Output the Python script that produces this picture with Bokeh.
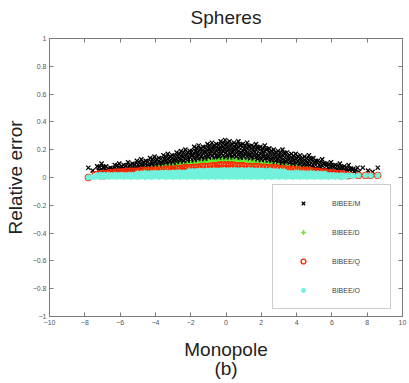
from bokeh.plotting import figure
from bokeh.models import LinearAxis, FixedTicker, Range1d, Legend, LegendItem
from bokeh.embed import file_html
from bokeh.resources import INLINE

title_text = "Spheres"
x_label = "Monopole\n(b)"
y_label = "Relative error"
series_names = ["BIBEE/M", "BIBEE/D", "BIBEE/Q", "BIBEE/O"]
x_ticks = [-10, -8, -6, -4, -2, 0, 2, 4, 6, 8, 10]
x_tick_labels = ["\u221210", "\u22128", "\u22126", "\u22124", "\u22122", "0", "2", "4", "6", "8", "10"]
y_ticks = [-1, -0.8, -0.6, -0.4, -0.2, 0, 0.2, 0.4, 0.6, 0.8, 1]
y_tick_labels = ["\u22121", "\u22120.8", "\u22120.6", "\u22120.4", "\u22120.2", "0", "0.2", "0.4", "0.6", "0.8", "1"]

# BIBEE/M  (x = monopole, y = relative error)
bibee_m = [
    (-7.80, 0.07), (-7.55, 0.05), (-7.30, 0.08), (-7.22, 0.05),
    (-7.05, 0.10), (-6.97, 0.07), (-7.12, 0.04), (-6.80, 0.08), (-6.72, 0.05),
    (-6.55, 0.07), (-6.48, 0.04), (-6.30, 0.09), (-6.22, 0.06), (-6.36, 0.04),
    (-6.05, 0.10), (-5.97, 0.07), (-6.12, 0.045), (-5.80, 0.09), (-5.72, 0.06), (-5.86, 0.04),
    (-5.55, 0.11), (-5.47, 0.08), (-5.62, 0.05), (-5.30, 0.10), (-5.22, 0.07), (-5.36, 0.05),
    (-5.05, 0.12), (-4.97, 0.09), (-5.12, 0.06), (-4.80, 0.13), (-4.72, 0.10), (-4.86, 0.07),
    (-4.55, 0.12), (-4.47, 0.09), (-4.62, 0.06), (-4.30, 0.14), (-4.22, 0.11), (-4.37, 0.08), (-4.26, 0.06),
    (-4.05, 0.15), (-3.97, 0.12), (-4.12, 0.09), (-4.00, 0.065), (-3.80, 0.14), (-3.72, 0.11), (-3.87, 0.08),
    (-3.55, 0.16), (-3.47, 0.13), (-3.62, 0.10), (-3.50, 0.075), (-3.30, 0.17), (-3.22, 0.14), (-3.37, 0.11), (-3.26, 0.085),
    (-3.05, 0.16), (-2.97, 0.13), (-3.12, 0.10), (-3.00, 0.08), (-2.80, 0.18), (-2.72, 0.15), (-2.87, 0.12), (-2.76, 0.09),
    (-2.55, 0.19), (-2.47, 0.16), (-2.62, 0.13), (-2.50, 0.10), (-2.30, 0.20), (-2.22, 0.17), (-2.37, 0.14), (-2.26, 0.11),
    (-2.05, 0.19), (-1.97, 0.16), (-2.12, 0.13), (-2.00, 0.10), (-1.80, 0.22), (-1.72, 0.19), (-1.87, 0.16), (-1.76, 0.13), (-1.83, 0.11),
    (-1.55, 0.23), (-1.47, 0.20), (-1.62, 0.17), (-1.50, 0.14), (-1.58, 0.115), (-1.30, 0.22), (-1.22, 0.19), (-1.37, 0.16), (-1.26, 0.13),
    (-1.05, 0.24), (-0.97, 0.21), (-1.12, 0.18), (-1.00, 0.15), (-1.08, 0.12), (-0.80, 0.25), (-0.72, 0.22), (-0.87, 0.19), (-0.76, 0.16), (-0.83, 0.13),
    (-0.55, 0.24), (-0.47, 0.21), (-0.62, 0.18), (-0.50, 0.15), (-0.58, 0.125),
    (-0.30, 0.26), (-0.22, 0.23), (-0.37, 0.20), (-0.26, 0.17), (-0.33, 0.14), (-0.24, 0.12),
    (-0.05, 0.27), (0.03, 0.24), (-0.12, 0.21), (0.00, 0.18), (-0.08, 0.15), (0.02, 0.125),
    (0.20, 0.26), (0.28, 0.23), (0.13, 0.20), (0.25, 0.17), (0.17, 0.14), (0.27, 0.125),
    (0.45, 0.25), (0.53, 0.22), (0.38, 0.19), (0.50, 0.16), (0.42, 0.13),
    (0.70, 0.26), (0.78, 0.23), (0.63, 0.20), (0.75, 0.17), (0.67, 0.14), (0.77, 0.12),
    (0.95, 0.24), (1.03, 0.21), (0.88, 0.18), (1.00, 0.15), (0.92, 0.125),
    (1.20, 0.25), (1.28, 0.22), (1.13, 0.19), (1.25, 0.16), (1.17, 0.13),
    (1.45, 0.23), (1.53, 0.20), (1.38, 0.17), (1.50, 0.14), (1.42, 0.12),
    (1.70, 0.24), (1.78, 0.21), (1.63, 0.18), (1.75, 0.15), (1.67, 0.12),
    (1.95, 0.22), (2.03, 0.19), (1.88, 0.16), (2.00, 0.13), (1.92, 0.11),
    (2.20, 0.23), (2.28, 0.20), (2.13, 0.17), (2.25, 0.14), (2.17, 0.11),
    (2.45, 0.21), (2.53, 0.18), (2.38, 0.15), (2.50, 0.12), (2.42, 0.10),
    (2.70, 0.20), (2.78, 0.17), (2.63, 0.14), (2.75, 0.11), (2.95, 0.19), (3.03, 0.16), (2.88, 0.13), (3.00, 0.10),
    (3.20, 0.20), (3.28, 0.17), (3.13, 0.14), (3.25, 0.11), (3.17, 0.09), (3.45, 0.18), (3.53, 0.15), (3.38, 0.12), (3.50, 0.09),
    (3.70, 0.17), (3.78, 0.14), (3.63, 0.11), (3.75, 0.085), (3.95, 0.17), (4.03, 0.14), (3.88, 0.11), (4.00, 0.08),
    (4.20, 0.16), (4.28, 0.13), (4.13, 0.10), (4.25, 0.075), (4.45, 0.15), (4.53, 0.12), (4.38, 0.09), (4.50, 0.07),
    (4.70, 0.16), (4.78, 0.13), (4.63, 0.10), (4.75, 0.07), (4.95, 0.14), (5.03, 0.11), (4.88, 0.08), (5.00, 0.06),
    (5.20, 0.12), (5.28, 0.09), (5.13, 0.06), (5.45, 0.13), (5.53, 0.10), (5.38, 0.07), (5.50, 0.05),
    (5.70, 0.10), (5.78, 0.07), (5.63, 0.05), (5.95, 0.11), (6.03, 0.08), (5.88, 0.05),
    (6.20, 0.09), (6.28, 0.06), (6.13, 0.04), (6.45, 0.10), (6.53, 0.07), (6.38, 0.045),
    (6.70, 0.08), (6.78, 0.05), (6.95, 0.09), (7.03, 0.06), (6.88, 0.04),
    (7.20, 0.06), (7.28, 0.04), (7.45, 0.07), (7.53, 0.04),
    (7.75, 0.07), (8.05, 0.05), (8.30, 0.04), (8.60, 0.07),
    (-7.17, 0.075), (-7.17, 0.045), (-6.92, 0.075), (-6.92, 0.05), (-6.67, 0.065), (-6.67, 0.045),
    (-6.42, 0.065), (-6.42, 0.05), (-6.17, 0.085), (-6.17, 0.055), (-5.92, 0.08), (-5.92, 0.05),
    (-5.67, 0.085), (-5.67, 0.06), (-5.42, 0.09), (-5.42, 0.06), (-5.17, 0.095), (-5.17, 0.065),
    (-4.92, 0.11), (-4.92, 0.08), (-4.92, 0.055), (-4.67, 0.11), (-4.67, 0.08), (-4.67, 0.055),
    (-4.42, 0.115), (-4.42, 0.085), (-4.42, 0.06), (-4.17, 0.13), (-4.17, 0.10), (-4.17, 0.07),
    (-3.92, 0.13), (-3.92, 0.10), (-3.92, 0.07), (-3.67, 0.135), (-3.67, 0.105), (-3.67, 0.08),
    (-3.42, 0.15), (-3.42, 0.12), (-3.42, 0.09), (-3.17, 0.15), (-3.17, 0.12), (-3.17, 0.09),
    (-2.92, 0.155), (-2.92, 0.125), (-2.92, 0.095), (-2.67, 0.17), (-2.67, 0.14), (-2.67, 0.11),
    (-2.42, 0.18), (-2.42, 0.15), (-2.42, 0.12), (-2.42, 0.095), (-2.17, 0.18), (-2.17, 0.15), (-2.17, 0.12), (-2.17, 0.10),
    (-1.92, 0.19), (-1.92, 0.16), (-1.92, 0.13), (-1.92, 0.105), (-1.67, 0.21), (-1.67, 0.18), (-1.67, 0.15), (-1.67, 0.12),
    (-1.42, 0.21), (-1.42, 0.18), (-1.42, 0.15), (-1.42, 0.125), (-1.17, 0.215), (-1.17, 0.185), (-1.17, 0.155), (-1.17, 0.125),
    (-0.92, 0.23), (-0.92, 0.20), (-0.92, 0.17), (-0.92, 0.14), (-0.67, 0.23), (-0.67, 0.20), (-0.67, 0.17), (-0.67, 0.14),
    (-0.42, 0.235), (-0.42, 0.205), (-0.42, 0.175), (-0.42, 0.145),
    (-0.17, 0.25), (-0.17, 0.22), (-0.17, 0.19), (-0.17, 0.16), (-0.17, 0.135),
    (0.08, 0.25), (0.08, 0.22), (0.08, 0.19), (0.08, 0.16), (0.08, 0.135),
    (0.33, 0.24), (0.33, 0.21), (0.33, 0.18), (0.33, 0.15), (0.58, 0.24), (0.58, 0.21), (0.58, 0.18), (0.58, 0.15),
    (0.83, 0.235), (0.83, 0.205), (0.83, 0.175), (0.83, 0.145), (1.08, 0.23), (1.08, 0.20), (1.08, 0.17), (1.08, 0.14),
    (1.33, 0.225), (1.33, 0.195), (1.33, 0.165), (1.33, 0.135), (1.58, 0.22), (1.58, 0.19), (1.58, 0.16), (1.58, 0.13),
    (1.83, 0.215), (1.83, 0.185), (1.83, 0.155), (1.83, 0.125), (2.08, 0.21), (2.08, 0.18), (2.08, 0.15), (2.08, 0.12),
    (2.33, 0.20), (2.33, 0.17), (2.33, 0.14), (2.33, 0.11), (2.58, 0.19), (2.58, 0.16), (2.58, 0.13), (2.58, 0.105),
    (2.83, 0.18), (2.83, 0.15), (2.83, 0.12), (2.83, 0.10), (3.08, 0.18), (3.08, 0.15), (3.08, 0.12), (3.08, 0.095),
    (3.33, 0.175), (3.33, 0.145), (3.33, 0.115), (3.33, 0.09), (3.58, 0.16), (3.58, 0.13), (3.58, 0.10),
    (3.83, 0.155), (3.83, 0.125), (3.83, 0.095), (4.08, 0.15), (4.08, 0.12), (4.08, 0.09),
    (4.33, 0.14), (4.33, 0.11), (4.33, 0.08), (4.58, 0.14), (4.58, 0.11), (4.58, 0.08),
    (4.83, 0.135), (4.83, 0.105), (4.83, 0.075), (5.08, 0.12), (5.08, 0.09), (5.08, 0.065),
    (5.33, 0.11), (5.33, 0.08), (5.33, 0.055), (5.58, 0.10), (5.58, 0.07), (5.58, 0.05),
    (5.83, 0.095), (5.83, 0.065), (5.83, 0.045), (6.08, 0.085), (6.08, 0.055), (6.33, 0.085), (6.33, 0.055),
    (6.58, 0.075), (6.58, 0.05), (6.83, 0.07), (6.83, 0.045), (7.08, 0.065), (7.08, 0.045), (7.33, 0.055),
]

# BIBEE/D
bibee_d = [
    (-4.6, 0.055), (-4.4, 0.06), (-4.2, 0.06), (-4.0, 0.065), (-3.8, 0.07), (-3.6, 0.07), (-3.4, 0.075), (-3.2, 0.08),
    (-3.0, 0.08), (-2.8, 0.085), (-2.6, 0.09), (-2.4, 0.09), (-2.2, 0.095), (-2.0, 0.10), (-1.8, 0.10), (-1.6, 0.105),
    (-1.4, 0.11), (-1.2, 0.11), (-1.0, 0.115), (-0.8, 0.12), (-0.6, 0.115), (-0.4, 0.12), (-0.2, 0.125), (0.0, 0.12),
    (0.2, 0.125), (0.4, 0.12), (0.6, 0.12), (0.8, 0.115), (1.0, 0.12), (1.2, 0.115), (1.4, 0.11), (1.6, 0.11),
    (1.8, 0.105), (2.0, 0.10), (2.2, 0.10), (2.4, 0.095), (2.6, 0.09), (2.8, 0.09), (3.0, 0.085), (3.2, 0.08),
    (3.4, 0.08), (3.6, 0.075), (3.8, 0.07), (4.0, 0.07), (4.2, 0.065), (4.4, 0.06), (4.6, 0.06), (4.8, 0.055),
    (-3.5, 0.065), (-2.5, 0.08), (-1.5, 0.095), (-0.5, 0.11), (0.5, 0.11), (1.5, 0.10), (2.5, 0.085), (3.5, 0.07),
]

# BIBEE/Q
bibee_q = [
    (-7.8, 0.0), (-7.4, 0.02), (-7.2, 0.025), (-7.0, 0.03), (-6.8, 0.03), (-6.6, 0.035), (-6.4, 0.035), (-6.2, 0.04),
    (-6.0, 0.04), (-5.8, 0.04), (-5.6, 0.045), (-5.4, 0.045), (-5.2, 0.045), (-5.0, 0.045), (-4.8, 0.05), (-4.6, 0.05),
    (-4.4, 0.05), (-4.2, 0.05), (-4.0, 0.055), (-3.8, 0.055), (-3.6, 0.055), (-3.4, 0.06), (-3.2, 0.06), (-3.0, 0.06),
    (-2.8, 0.065), (-2.6, 0.065), (-2.4, 0.07), (-2.2, 0.07), (-2.0, 0.07), (-1.8, 0.075), (-1.6, 0.075), (-1.4, 0.08),
    (-1.2, 0.08), (-1.0, 0.08), (-0.8, 0.085), (-0.6, 0.085), (-0.4, 0.09), (-0.2, 0.09), (0.0, 0.09), (0.2, 0.09),
    (0.4, 0.09), (0.6, 0.085), (0.8, 0.085), (1.0, 0.085), (1.2, 0.08), (1.4, 0.08), (1.6, 0.08), (1.8, 0.08),
    (2.0, 0.075), (2.2, 0.075), (2.4, 0.07), (2.6, 0.07), (2.8, 0.07), (3.0, 0.065), (3.2, 0.065), (3.4, 0.06),
    (3.6, 0.06), (3.8, 0.06), (4.0, 0.055), (4.2, 0.055), (4.4, 0.05), (4.6, 0.05), (4.8, 0.05), (5.0, 0.045),
    (5.2, 0.045), (5.4, 0.04), (5.6, 0.04), (5.8, 0.035), (6.0, 0.035), (6.2, 0.03), (6.4, 0.03), (6.6, 0.025),
    (6.8, 0.02), (7.05, 0.015), (7.5, 0.015), (7.9, 0.015), (8.2, 0.015), (8.6, 0.015),
    (-7.1, 0.012), (-6.9, 0.012), (-6.7, 0.015), (-6.5, 0.015), (-6.3, 0.018), (-6.1, 0.018), (-5.9, 0.02), (-5.7, 0.022),
    (-5.5, 0.022), (-5.3, 0.024), (-5.1, 0.024), (-4.9, 0.026), (-4.7, 0.028), (-4.5, 0.028), (-4.3, 0.03), (-4.1, 0.03),
    (-3.9, 0.032), (-3.7, 0.032), (-3.5, 0.035), (-3.3, 0.035), (-3.1, 0.035), (-2.9, 0.04), (-2.7, 0.04), (-2.5, 0.045),
    (-2.3, 0.045), (-2.1, 0.045), (-1.9, 0.05), (-1.7, 0.05), (-1.5, 0.055), (-1.3, 0.055), (-1.1, 0.055), (-0.9, 0.06),
    (-0.7, 0.06), (-0.5, 0.065), (-0.3, 0.065), (-0.1, 0.065), (0.1, 0.065), (0.3, 0.065), (0.5, 0.06), (0.7, 0.06),
    (0.9, 0.06), (1.1, 0.055), (1.3, 0.055), (1.5, 0.055), (1.7, 0.055), (1.9, 0.05), (2.1, 0.05), (2.3, 0.045),
    (2.5, 0.045), (2.7, 0.045), (2.9, 0.04), (3.1, 0.04), (3.3, 0.035), (3.5, 0.035), (3.7, 0.035), (3.9, 0.03),
    (4.1, 0.03), (4.3, 0.028), (4.5, 0.028), (4.7, 0.026), (4.9, 0.024), (5.1, 0.024), (5.3, 0.022), (5.5, 0.02),
    (5.7, 0.018), (5.9, 0.018), (6.1, 0.015), (6.3, 0.015), (6.5, 0.012), (6.9, 0.012),
]

# BIBEE/O
bibee_o = [
    (-7.8, 0.0), (-7.6, 0.004),
    (-7.4, 0.004), (-7.2, 0.008), (-7.0, 0.004), (-6.8, 0.008), (-6.6, 0.004), (-6.4, 0.008), (-6.2, 0.004), (-6.0, 0.008),
    (-5.8, 0.004), (-5.6, 0.008), (-5.4, 0.004), (-5.2, 0.008), (-5.0, 0.004), (-4.8, 0.008), (-4.6, 0.004), (-4.4, 0.008),
    (-4.2, 0.004), (-4.0, 0.008), (-3.8, 0.004), (-3.6, 0.008), (-3.4, 0.004), (-3.2, 0.008), (-3.0, 0.004), (-2.8, 0.008),
    (-2.6, 0.004), (-2.4, 0.008), (-2.2, 0.004), (-2.0, 0.008), (-1.8, 0.004), (-1.6, 0.008), (-1.4, 0.004), (-1.2, 0.008),
    (-1.0, 0.004), (-0.8, 0.008), (-0.6, 0.004), (-0.4, 0.008), (-0.2, 0.004), (0.0, 0.008), (0.2, 0.004), (0.4, 0.008),
    (0.6, 0.004), (0.8, 0.008), (1.0, 0.004), (1.2, 0.008), (1.4, 0.004), (1.6, 0.008), (1.8, 0.004), (2.0, 0.008),
    (2.2, 0.004), (2.4, 0.008), (2.6, 0.004), (2.8, 0.008), (3.0, 0.004), (3.2, 0.008), (3.4, 0.004), (3.6, 0.008),
    (3.8, 0.004), (4.0, 0.008), (4.2, 0.004), (4.4, 0.008), (4.6, 0.004), (4.8, 0.008), (5.0, 0.004), (5.2, 0.008),
    (5.4, 0.004), (5.6, 0.008), (5.8, 0.004), (6.0, 0.008), (6.2, 0.004), (6.4, 0.008), (6.6, 0.004), (6.8, 0.008),
    (-7.3, 0.018), (-7.1, 0.02), (-6.9, 0.018), (-6.7, 0.02), (-6.5, 0.018), (-6.3, 0.02), (-6.1, 0.018), (-5.9, 0.02),
    (-5.7, 0.018), (-5.5, 0.02), (-5.3, 0.02), (-5.1, 0.022), (-4.9, 0.02), (-4.7, 0.022), (-4.5, 0.02), (-4.3, 0.022),
    (-4.1, 0.02), (-3.9, 0.022), (-3.7, 0.02), (-3.5, 0.022), (-3.3, 0.02), (-3.1, 0.022), (-2.9, 0.02), (-2.7, 0.022),
    (-2.5, 0.02), (-2.3, 0.022), (-2.1, 0.02), (-1.9, 0.022), (-1.7, 0.02), (-1.5, 0.022), (-1.3, 0.02), (-1.1, 0.022),
    (-0.9, 0.02), (-0.7, 0.022), (-0.5, 0.02), (-0.3, 0.022), (-0.1, 0.02), (0.1, 0.022), (0.3, 0.02), (0.5, 0.022),
    (0.7, 0.02), (0.9, 0.022), (1.1, 0.02), (1.3, 0.022), (1.5, 0.02), (1.7, 0.022), (1.9, 0.02), (2.1, 0.022),
    (2.3, 0.02), (2.5, 0.022), (2.7, 0.02), (2.9, 0.022), (3.1, 0.02), (3.3, 0.022), (3.5, 0.02), (3.7, 0.022),
    (3.9, 0.02), (4.1, 0.022), (4.3, 0.02), (4.5, 0.022), (4.7, 0.02), (4.9, 0.02), (5.1, 0.018), (5.3, 0.02),
    (5.5, 0.018), (5.7, 0.02), (5.9, 0.018), (6.1, 0.018), (6.3, 0.016), (6.5, 0.016), (6.7, 0.014), (6.9, 0.014),
    (-5.0, 0.03), (-4.8, 0.03), (-4.6, 0.032), (-4.4, 0.03), (-4.2, 0.032), (-4.0, 0.034), (-3.8, 0.032), (-3.6, 0.034),
    (-3.4, 0.036), (-3.2, 0.034), (-3.0, 0.036), (-2.8, 0.036), (-2.6, 0.038), (-2.4, 0.036), (-2.2, 0.038), (-2.0, 0.038),
    (-1.8, 0.036), (-1.6, 0.038), (-1.4, 0.038), (-1.2, 0.036), (-1.0, 0.038), (-0.8, 0.038), (-0.6, 0.036), (-0.4, 0.038),
    (-0.2, 0.038), (0.0, 0.036), (0.2, 0.038), (0.4, 0.038), (0.6, 0.036), (0.8, 0.038), (1.0, 0.038), (1.2, 0.036),
    (1.4, 0.038), (1.6, 0.038), (1.8, 0.036), (2.0, 0.038), (2.2, 0.036), (2.4, 0.038), (2.6, 0.036), (2.8, 0.036),
    (3.0, 0.034), (3.2, 0.036), (3.4, 0.034), (3.6, 0.034), (3.8, 0.032), (4.0, 0.034), (4.2, 0.032), (4.4, 0.032),
    (4.6, 0.03), (4.8, 0.032), (5.0, 0.03), (5.2, 0.03), (5.4, 0.028), (5.6, 0.028),
    (-2.1, 0.046), (-1.9, 0.048), (-1.7, 0.046), (-1.5, 0.05), (-1.3, 0.048), (-1.1, 0.05), (-0.9, 0.05), (-0.7, 0.052),
    (-0.5, 0.05), (-0.3, 0.052), (-0.1, 0.054), (0.1, 0.052), (0.3, 0.054), (0.5, 0.054), (0.7, 0.052), (0.9, 0.054),
    (1.1, 0.052), (1.3, 0.054), (1.5, 0.052), (1.7, 0.05), (1.9, 0.052), (2.1, 0.05), (2.3, 0.048), (2.5, 0.05),
    (2.7, 0.048), (2.9, 0.046), (3.1, 0.046), (3.3, 0.044),
    (7.05, 0.015), (7.2, 0.01), (7.5, 0.015), (7.9, 0.015), (8.2, 0.015), (8.6, 0.015),
]

FONT = "Liberation Sans"
AX = "#7a7a7a"

p = figure(width=409, height=383, x_range=Range1d(-10, 10), y_range=Range1d(-1, 1),
           output_backend="svg", toolbar_location=None,
           min_border_left=49, min_border_right=7, min_border_top=38, min_border_bottom=67,
           x_axis_location=None, y_axis_location=None)
p.background_fill_color = "white"
p.border_fill_color = "white"
p.outline_line_color = AX
p.xgrid.visible = False
p.ygrid.visible = False


def make_axis(ticks, labels, show, label_text, label_standoff):
    ax = LinearAxis(ticker=FixedTicker(ticks=ticks))
    ax.major_label_overrides = {t: (l if show else "") for t, l in zip(ticks, labels)}
    ax.major_tick_in = 4
    ax.major_tick_out = 0
    ax.minor_tick_line_color = None
    ax.axis_line_color = AX
    ax.major_tick_line_color = AX
    ax.major_label_text_font = FONT
    ax.major_label_text_font_size = "7px" if show else "0px"
    ax.major_label_text_color = "#555555"
    ax.major_label_standoff = 3 if show else 0
    if label_text:
        ax.axis_label = label_text
        ax.axis_label_text_font = FONT
        ax.axis_label_text_font_size = "19px"
        ax.axis_label_text_font_style = "normal"
        ax.axis_label_text_color = "#222222"
        ax.axis_label_standoff = label_standoff
        ax.axis_label_text_line_height = 0.95
    return ax


p.add_layout(make_axis(x_ticks, x_tick_labels, True, x_label, 11), "below")
p.add_layout(make_axis(y_ticks, y_tick_labels, True, y_label, 4), "left")
p.add_layout(make_axis(x_ticks, x_tick_labels, False, title_text, 11), "above")
p.add_layout(make_axis(y_ticks, y_tick_labels, False, None, 0), "right")

rm = p.scatter([a for a, b in bibee_m], [b for a, b in bibee_m], marker="x", size=6,
               line_color="black", line_width=1.3)
rd = p.scatter([a for a, b in bibee_d], [b for a, b in bibee_d], marker="cross", size=6,
               line_color="#5fee2a", line_width=1.5)
rq = p.scatter([a for a, b in bibee_q], [b for a, b in bibee_q], marker="circle", size=6,
               fill_color=None, line_color="#ff2a00", line_width=1.4)
ro = p.scatter([a for a, b in bibee_o], [b for a, b in bibee_o], marker="asterisk", size=6,
               line_color="#72f2dc", line_width=1.6)

legend = Legend(items=[LegendItem(label=n, renderers=[r]) for n, r in zip(series_names, [rm, rd, rq, ro])],
                location=(223, 7), padding=8, spacing=9, glyph_width=44, glyph_height=12,
                label_height=20, label_width=50, label_standoff=7, margin=0,
                label_text_font=FONT, label_text_font_size="7px", label_text_color="#444444",
                border_line_color="#999999", border_line_width=1,
                background_fill_color="white", background_fill_alpha=1)
p.add_layout(legend, "center")

open("out.html", "w").write(file_html(p, INLINE))
